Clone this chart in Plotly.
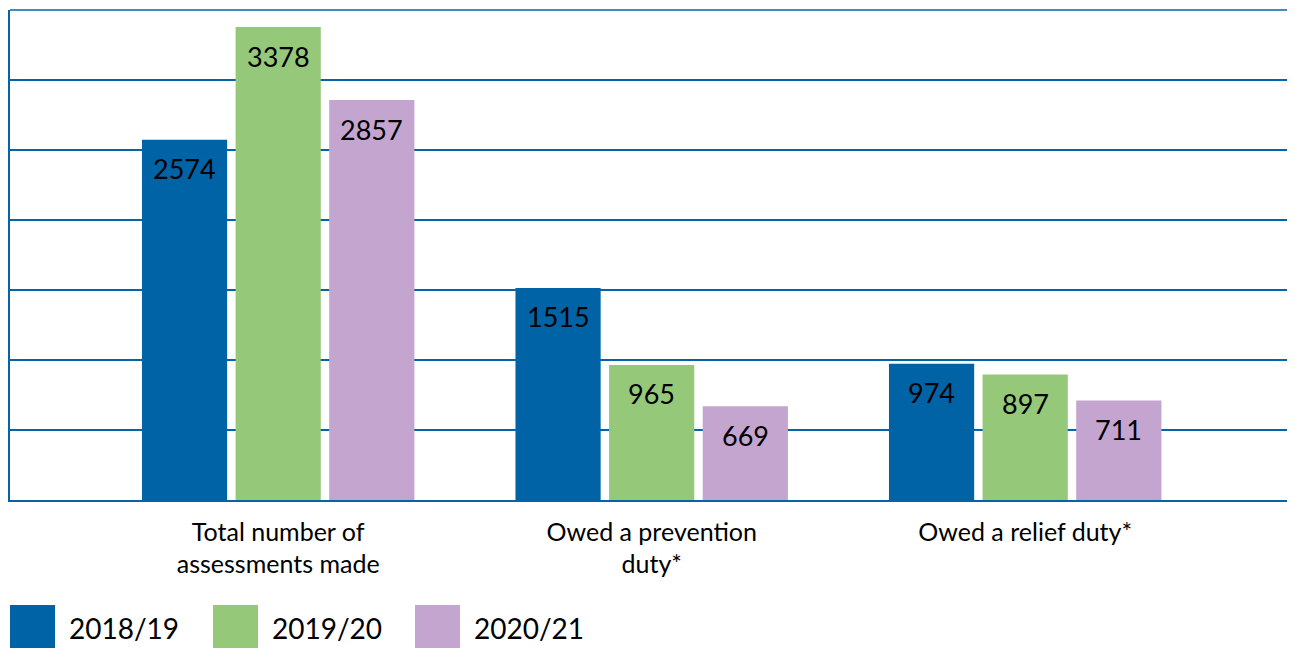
import plotly.graph_objects as go

categories = ["Total number of<br>assessments made", "Owed a prevention<br>duty*", "Owed a relief duty*"]
series_names = ["2018/19", "2019/20", "2020/21"]
values_2018 = [2574, 1515, 974]
values_2019 = [3378, 965, 897]
values_2020 = [2857, 669, 711]
colors = ["#0063A6", "#95C878", "#C4A5CF"]

FONT = "Lato"
AXIS_BLUE = "#0563A8"

all_values = [values_2018, values_2019, values_2020]

# page body adds an 8px margin, so the figure is a little smaller
W, H = 1287, 640
PW, PH = 1283, 490  # plot area size in px

fig = go.Figure()
for name, vals, col in zip(series_names, all_values, colors):
    fig.add_trace(go.Bar(x=categories, y=vals, name=name, marker_color=col,
                         marker_line_width=0, showlegend=False))

# value labels sitting a little below the top of each bar
slot_px = 93.5
for k, vals in enumerate(all_values):
    for cat, v in zip(categories, vals):
        fig.add_annotation(x=cat, y=v, xref="x", yref="y", text=str(v),
                           showarrow=False, yanchor="middle", yshift=-29,
                           xshift=(k - 1) * slot_px,
                           font=dict(family=FONT, size=27, color="black"))

# custom legend with big square swatches
legend_x = [0, 203, 405]
for lx, name, col in zip(legend_x, series_names, colors):
    fig.add_shape(type="rect", xref="paper", yref="paper",
                  x0=lx / PW, x1=(lx + 45) / PW,
                  y0=-150 / PH, y1=-105 / PH,
                  fillcolor=col, line_width=0)
    fig.add_annotation(xref="paper", yref="paper", x=(lx + 57) / PW,
                       y=-128 / PH, text=name, showarrow=False,
                       xanchor="left", yanchor="middle",
                       font=dict(family=FONT, size=28, color="black"))

# top gridline (plotly drops the one sitting on the plot edge)
fig.add_shape(type="line", xref="paper", yref="paper", x0=0, x1=1, y0=1, y1=1,
              line=dict(color=AXIS_BLUE, width=1.5), layer="below")

fig.update_layout(
    width=W, height=H,
    margin=dict(l=2, r=2, t=2, b=148),
    barmode="group", bargap=0.248, bargroupgap=0.09,
    plot_bgcolor="white", paper_bgcolor="white",
    font=dict(family=FONT, size=22, color="black"),
)
fig.update_xaxes(range=[-0.718, 2.717], showline=True, linecolor=AXIS_BLUE,
                 linewidth=1.5, ticks="", showgrid=False, ticklabelstandoff=9,
                 tickfont=dict(size=25, family=FONT))
fig.update_yaxes(range=[0, 3500], dtick=500, showgrid=True, gridcolor=AXIS_BLUE,
                 gridwidth=1.5, showline=True, linecolor=AXIS_BLUE, linewidth=1.5,
                 showticklabels=False, zeroline=False)

fig.write_html("out.html")
